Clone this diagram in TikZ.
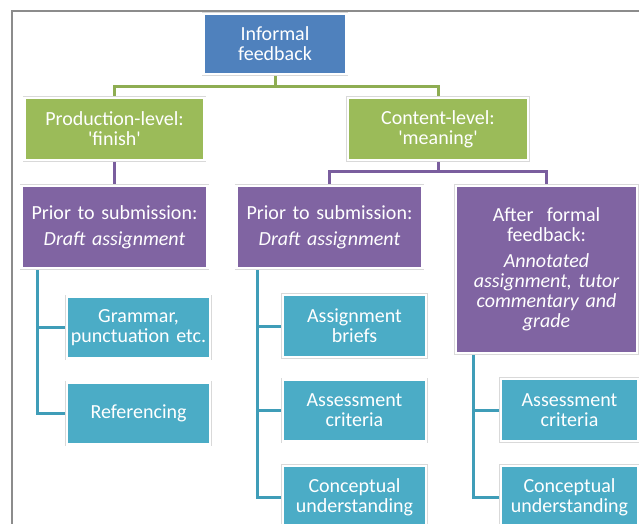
\documentclass[tikz,border=0pt]{standalone}
\usepackage{fontspec}
\setmainfont{Carlito}
\usetikzlibrary{shadows,backgrounds}

\definecolor{boxblue}{HTML}{4F81BD}
\definecolor{boxgreen}{HTML}{9BBB59}
\definecolor{boxpurple}{HTML}{8064A2}
\definecolor{boxcyan}{HTML}{4BACC6}
\definecolor{linegreen}{HTML}{8EAD52}
\definecolor{linepurple}{HTML}{7A5E9E}
\definecolor{linecyan}{HTML}{3F9DB8}
\definecolor{framegray}{HTML}{8C8C8C}

\begin{document}
\begin{tikzpicture}[x=1pt,
					y=-1pt,
					thick,
					box/.style={rectangle,draw=white,line width=2.5pt,text=white,
						align=center,inner sep=0pt,
						font=\fontsize{20}{20}\selectfont,
						drop shadow={opacity=0.35,shadow xshift=1.2pt,shadow yshift=-1.8pt},
						preaction={draw=black!15,line width=3.8pt}},
					blue node/.style={box,fill=boxblue,minimum width=143pt,minimum height=60pt},
					green node/.style={box,fill=boxgreen,minimum width=180pt,minimum height=62pt},
					purple node/.style={box,fill=boxpurple,minimum width=186pt,minimum height=82pt,text width=182pt},
					cyan node/.style={box,fill=boxcyan,minimum width=143pt,minimum height=62pt,text width=142pt},
					green line/.style={draw=linegreen,line width=3pt},
					purple line/.style={draw=linepurple,line width=3pt},
					cyan line/.style={draw=linecyan,line width=3pt}]

  \clip (0,0) rectangle (639,524);
  \draw[framegray,line width=1.3pt] (12,540) |- (660,11);

  \node[blue node] (informal) at (275,44) {Informal\\feedback};

  \node[green node] (production) at (114.5,129) {Production-level:\\\textquotesingle finish\textquotesingle};
  \node[green node] (content) at (438,129) {Content-level:\\\textquotesingle meaning\textquotesingle};

  \node[purple node] (prod prior) at (114.5,227) {Prior to submission:\\[6pt]\textit{Draft assignment}};
  \node[purple node] (cont prior) at (329.5,227) {Prior to submission:\\[6pt]\textit{Draft assignment}};
  \node[purple node,minimum width=181pt,minimum height=167pt,text width=178pt] (cont after) at (546.5,269.5)
    {After\ \ formal\\feedback:\\[6pt]\textit{Annotated\\assignment, tutor\\commentary and\\grade}};

  \node[cyan node] (grammar) at (138.5,327.5) {Grammar,\\punctuation etc.};
  \node[cyan node] (referencing) at (138.5,413.5) {Referencing};
  \node[cyan node] (briefs) at (354.5,326) {Assignment\\briefs};
  \node[cyan node] (criteria a) at (354.5,410.5) {Assessment\\criteria};
  \node[cyan node] (concept a) at (354.5,497) {Conceptual\\understanding};
  \node[cyan node,minimum width=137pt,text width=136pt] (criteria b) at (569.5,410) {Assessment\\criteria};
  \node[cyan node,minimum width=137pt,text width=136pt] (concept b) at (569.5,497) {Conceptual\\understanding};

  % connectors behind the boxes
  \coordinate (green bus) at (275,87);
  \coordinate (purple bus) at (438,171);

  \begin{scope}[on background layer]
  \path[green line] (informal.south) -- (green bus) -| (production.north);
  \path[green line] (green bus) -| (content.north);

  \path[purple line] (production.south) -- (prod prior.north);
  \path[purple line] (content.south) -- (purple bus) -| (cont prior.north);
  \path[purple line] (purple bus) -| (cont after.north);

  \path[cyan line] ([xshift=17pt]prod prior.south west) |- (grammar.west);
  \path[cyan line] ([xshift=17pt]prod prior.south west) |- (referencing.west);
  \path[cyan line] ([xshift=22pt]cont prior.south west) |- (briefs.west);
  \path[cyan line] ([xshift=22pt]cont prior.south west) |- (criteria a.west);
  \path[cyan line] ([xshift=22pt]cont prior.south west) |- (concept a.west);
  \path[cyan line] ([xshift=19pt]cont after.south west) |- (criteria b.west);
  \path[cyan line] ([xshift=19pt]cont after.south west) |- (concept b.west);
  \end{scope}
\end{tikzpicture}
\end{document}
